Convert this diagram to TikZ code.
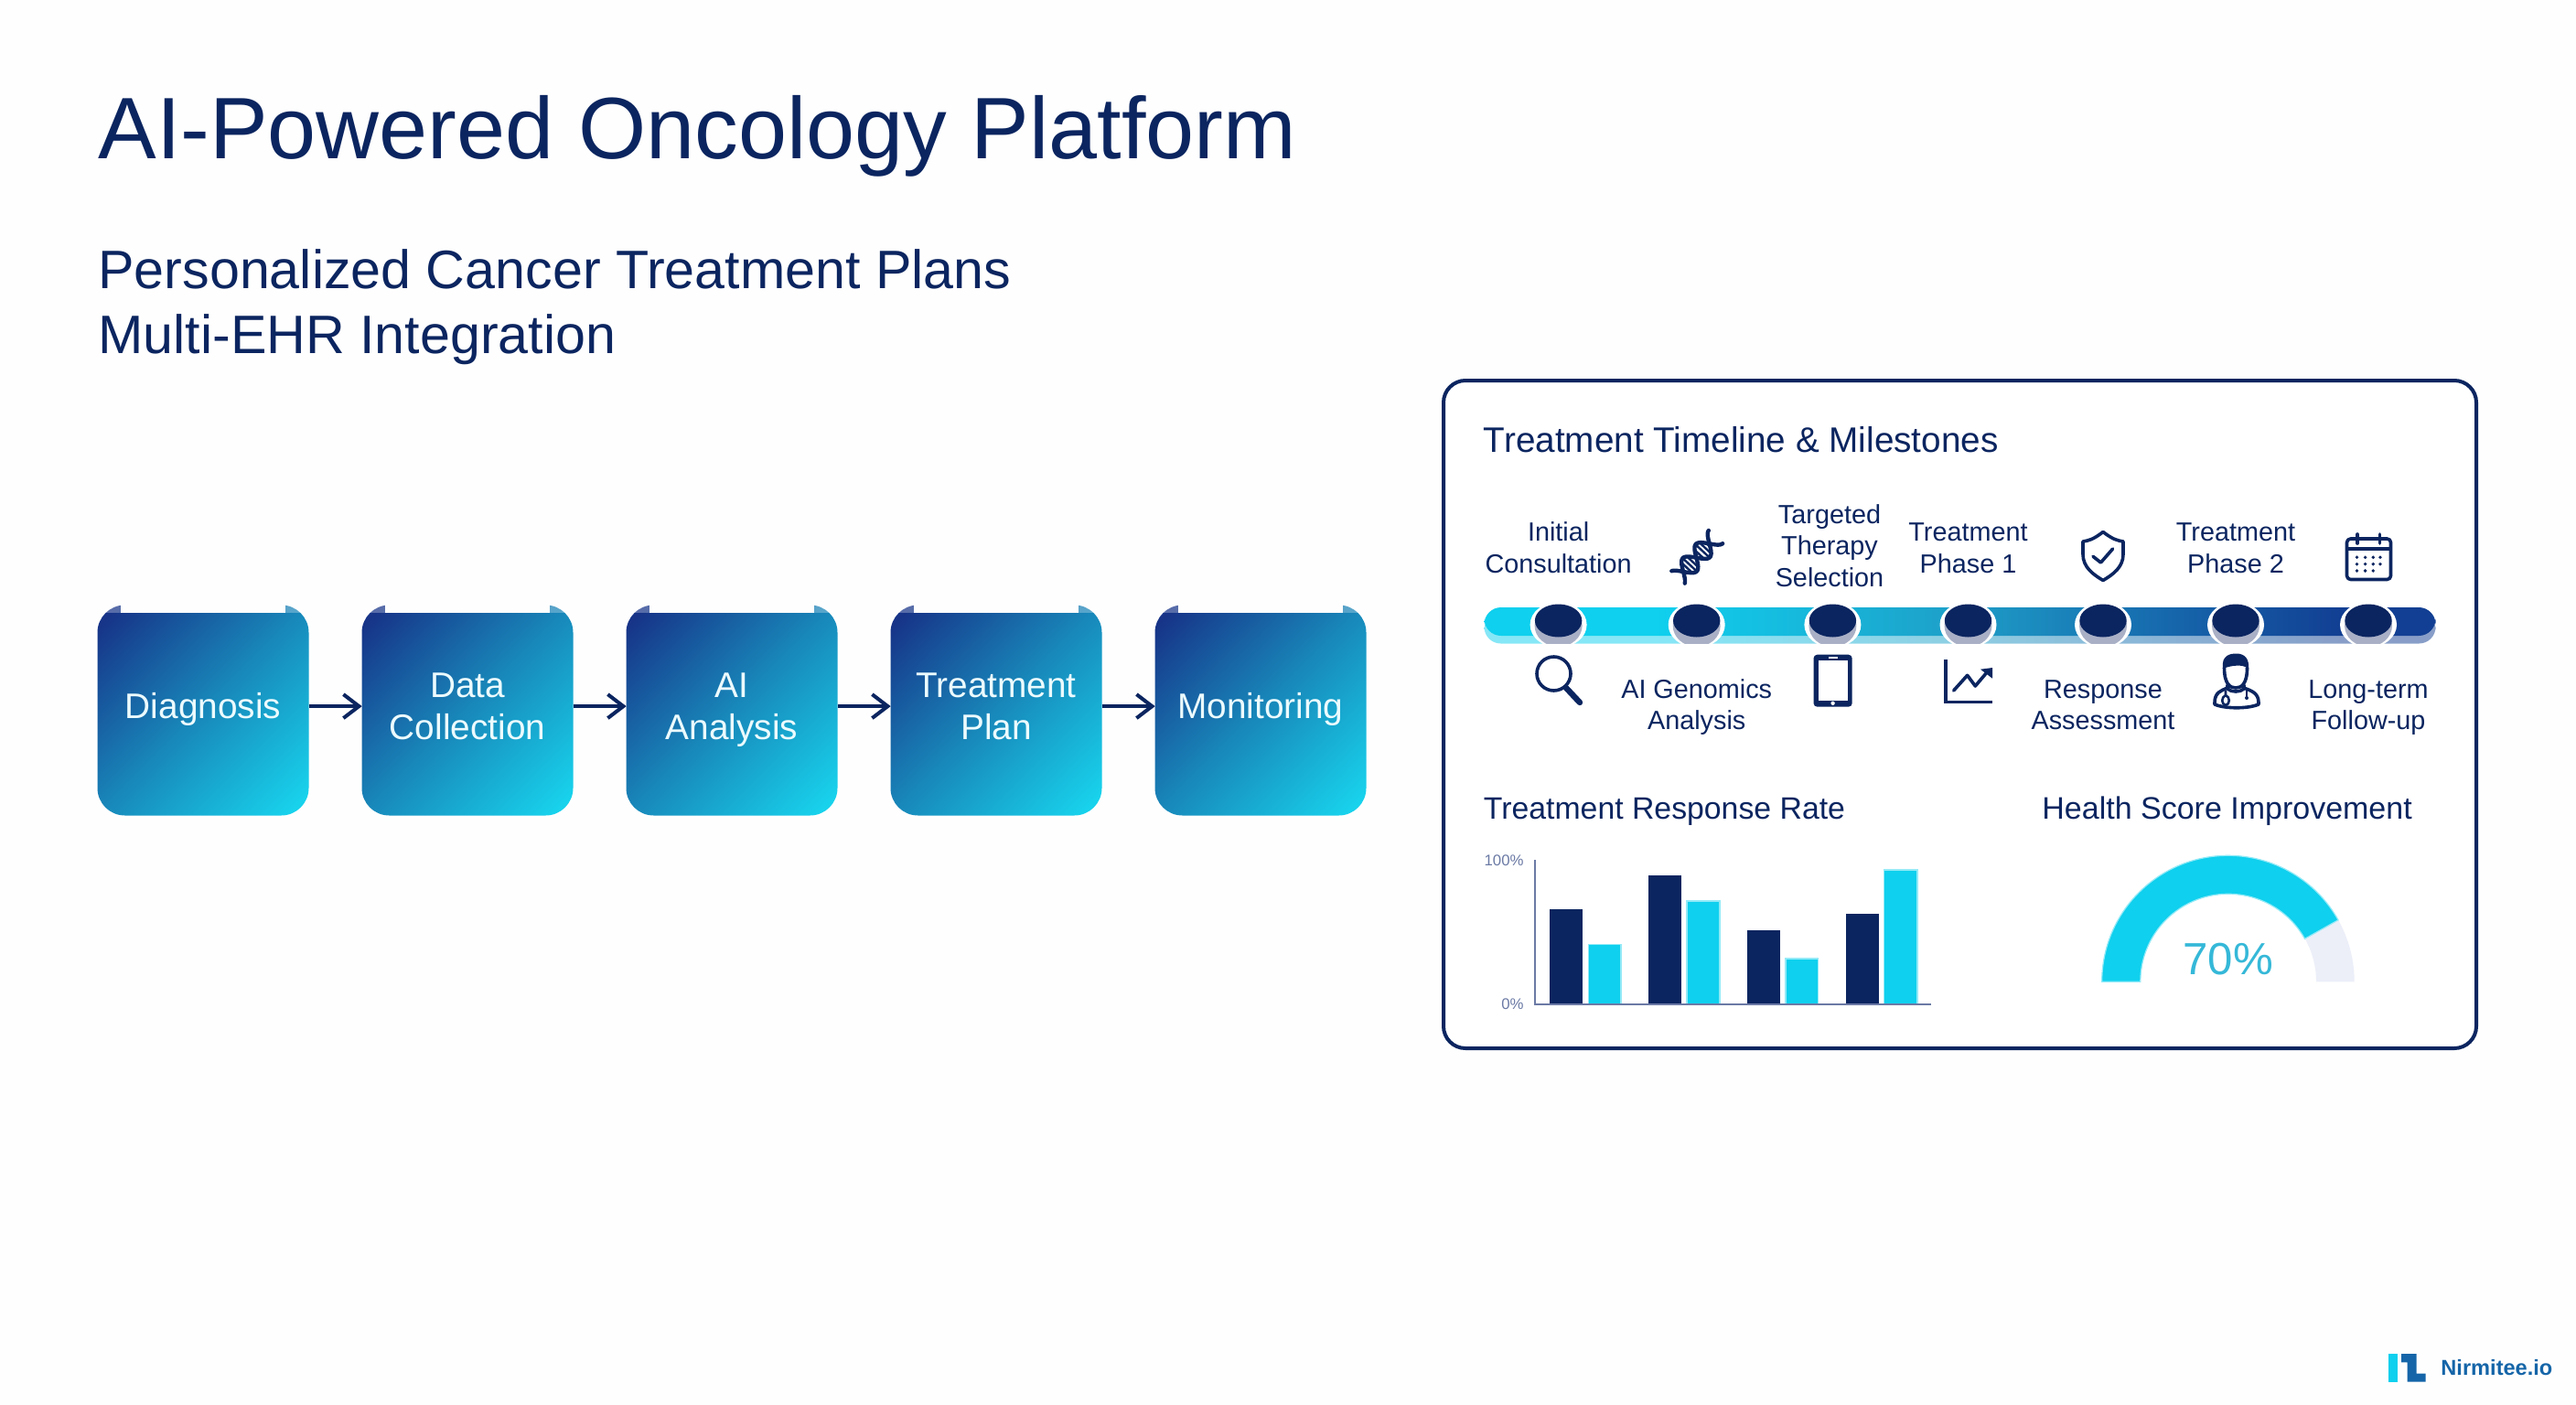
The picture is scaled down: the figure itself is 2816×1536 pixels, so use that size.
\documentclass[tikz,border=0pt]{standalone}
\usepackage{fontspec}
\setmainfont{Liberation Sans}
\usetikzlibrary{arrows.meta,shapes.geometric}
\definecolor{navy}{HTML}{0B2560}
\definecolor{cyanb}{HTML}{0FD0EE}
\definecolor{axisc}{HTML}{6B7AA5}
\definecolor{gaugeg}{HTML}{ECEFF8}
\definecolor{bgc}{HTML}{FEFEFE}
\definecolor{shadowg}{HTML}{A9B0C6}
\definecolor{logob}{HTML}{1565A8}
\definecolor{gaugetxt}{HTML}{35B8D8}
\definecolor{barb}{HTML}{1E9FC8}
\definecolor{barc}{HTML}{1667AC}
\definecolor{bard}{HTML}{123F93}
\definecolor{boxa}{HTML}{173488}
\definecolor{boxb}{HTML}{1888BA}
\definecolor{boxc}{HTML}{18D2EC}
\pgfdeclarehorizontalshading{barshade}{100bp}{
 color(0bp)=(cyanb); color(25bp)=(cyanb); color(34bp)=(cyanb);
 color(50bp)=(barb); color(61bp)=(barc); color(70bp)=(bard);
 color(75bp)=(bard); color(100bp)=(bard)}
\pgfdeclarehorizontalshading{boxshade}{100bp}{
 color(0bp)=(boxa); color(18bp)=(boxa); color(50bp)=(boxb);
 color(82bp)=(boxc); color(100bp)=(boxc)}
\tikzset{
 x=0.5pt,y=-0.5pt,
 title text/.style={anchor=base west,inner sep=0pt,text=navy},
 flowbox/.style={rectangle,rounded corners=15pt,minimum width=115.5pt,minimum height=115pt,inner sep=0pt,
   shading=boxshade,shading angle=-45,text=white!92!cyanb,align=center,
   font=\fontsize{19.4pt}{22.8pt}\selectfont},
 flowarrow/.style={draw=navy,line width=2pt,-{Straight Barb[length=8.5pt,width=13pt,line width=2pt]},shorten >=-0.3pt},
 mile/.style={inner sep=0pt,text=navy,align=center,font=\fontsize{14.4pt}{17.2pt}\selectfont},
 head/.style={anchor=base west,inner sep=0pt,text=navy},
 dotn/.style={ellipse,fill=navy,minimum width=25.7pt,minimum height=18pt,inner sep=0pt},
 icon/.style={draw=navy,line width=1.8pt,line cap=round,line join=round},
 navybar/.style={fill=navy},
 cyanbar/.style={fill=cyanb,draw=cyanb!45,line width=.6pt},
 axistick/.style={anchor=east,inner sep=0pt,text=axisc,font=\fontsize{8.4pt}{10pt}\selectfont},
}
\begin{document}
\begin{tikzpicture}
\useasboundingbox (0,0) rectangle (2816,1536);
\fill[bgc] (0,0) rectangle (2816,1536);
% titles
\node[title text,font=\fontsize{47.7pt}{50pt}\selectfont] (maintitle) at (107,173.3) {AI-Powered Oncology Platform};
\node[title text,font=\fontsize{29.6pt}{32pt}\selectfont] (subone) at (107,315) {Personalized Cancer Treatment Plans};
\node[title text,font=\fontsize{29.6pt}{32pt}\selectfont] (subtwo) at (107,386) {Multi-EHR Integration};
% flow
\foreach \nm/\cx/\txt in {a/222/Diagnosis\strut,b/511/Data\strut\\Collection\strut,c/800/AI\strut\\Analysis\strut,d/1089/Treatment\strut\\Plan\strut,e/1378/Monitoring\strut}{
  \node[flowbox] (\nm) at (\cx,776.5) {\txt};
  \begin{scope}
    \clip[rounded corners=15pt] (\nm.south west) rectangle (\nm.north east);
    \fill[white,opacity=.28] (\nm.north west) rectangle ([yshift=-4.2pt]\nm.north east);
  \end{scope}
  \fill[bgc] ([xshift=-45pt]\nm.north) rectangle ([xshift=45pt,yshift=-4.2pt]\nm.north);
}
\foreach \p/\q in {a/b,b/c,c/d,d/e}
  \draw[flowarrow] ([yshift=2.2pt]\p.east) -- ([yshift=2.2pt]\q.west);
% panel
\draw[navy,line width=2pt,fill=white,rounded corners=12pt] (1578,416) rectangle (2707,1146);
\node[head,font=\fontsize{19.35pt}{22pt}\selectfont] (paneltitle) at (1621.5,494) {Treatment Timeline \& Milestones};
% timeline bar
\shade[shading=barshade,opacity=.5,rounded corners=9pt] (1622.5,670) rectangle (2662.5,703.5);
\shade[shading=barshade,rounded corners=9.2pt] (1622.5,664) rectangle (2662.5,695);
\begin{scope}
 \clip (1600,640) rectangle (2700,703.5);
 \foreach \mx in {1703.6,1854.7,2003.4,2151.5,2299,2444,2589}{
   \fill[white] (\mx,683) ellipse [x radius=31,y radius=25];
   \fill[shadowg] (\mx,684) ellipse [x radius=26,y radius=23];
 }
\end{scope}
\foreach \i/\mx in {1/1703.6,2/1854.7,3/2003.4,4/2151.5,5/2299,6/2444,7/2589}
  \node[dotn] (m\i) at (\mx,678.5) {};
% labels
\node[mile] (l1) at (1703.6,602) {Initial\strut\\Consultation\strut};
\node[mile] (l3) at (2000,600) {Targeted\strut\\Therapy\strut\\Selection\strut};
\node[mile] (l4) at (2151.5,602) {Treatment\strut\\Phase 1\strut};
\node[mile] (l6) at (2444,602) {Treatment\strut\\Phase 2\strut};
\node[mile] (l2) at (1854.7,773.6) {AI Genomics\strut\\Analysis\strut};
\node[mile] (l5) at (2299,773.6) {Response\strut\\Assessment\strut};
\node[mile] (l7) at (2589,773.6) {Long-term\strut\\Follow-up\strut};
% magnifier
\draw[icon] (1698.5,736.5) circle [radius=18.5];
\draw[icon,line width=3.2pt] (1712,752) -- (1727,768);
% DNA
\begin{scope}[shift={(1855,609)},rotate=47]
 \draw[icon,line width=2.2pt] plot[domain=-30:30,samples=40] (\x,{10.5*sin(\x*8.6+8)});
 \draw[icon,line width=2.2pt] plot[domain=-30:30,samples=40] (\x,{-10.5*sin(\x*8.6+8)});
 \foreach \t in {-16,-11.5,-7,9,4,13.5,18}
   \draw[navy,line width=1.2pt] (\t,{10.5*sin(\t*8.6+8)}) -- (\t,{-10.5*sin(\t*8.6+8)});
\end{scope}
% tablet
\fill[navy,rounded corners=2pt] (1982.5,715.7) rectangle (2024.7,772.7);
\fill[white] (1988,721.7) rectangle (2019.6,766);
\fill[white] (2003.6,768.8) circle [radius=2.2];
\fill[white] (1999,718) rectangle (2008.5,720);
% chart icon
\draw[navy,line width=1.8pt] (2127,721) -- (2127,767.5) -- (2178,767.5);
\draw[icon] (2135.6,755) -- (2150.6,738.3) -- (2159.3,750) -- (2172,735);
\fill[navy] (2165,731.7) -- (2178,730) -- (2178,741.7) -- cycle;
% shield
\draw[icon] (2299,581.5) .. controls (2288,590) and (2283,591) .. (2277,592)
   -- (2277,606) .. controls (2277,620) and (2288,628) .. (2299,634.5)
   .. controls (2310,628) and (2321,620) .. (2321,606) -- (2321,592)
   .. controls (2315,591) and (2310,590) .. (2299,581.5) -- cycle;
\draw[icon] (2288,608.3) -- (2296.5,615) -- (2309.6,600);
% calendar
\draw[icon,rounded corners=2pt] (2565.5,589) rectangle (2613.5,633.5);
\draw[navy,line width=1.8pt] (2565.5,600) -- (2613.5,600);
\draw[icon] (2577,584) -- (2577,594);
\draw[icon] (2601.4,584) -- (2601.4,594);
\foreach \dx/\dy in {2576.5/609.3,2585.6/609.3,2594.3/609.3,2602/609.3,2576.5/616.7,2585.6/616.7,2594.3/616.7,2602/616.7,2576.5/624,2585.6/624,2594.3/624}
  \fill[navy] (\dx,\dy) circle [radius=1.9];
% doctor
\draw[icon] (2431.5,730) .. controls (2431.5,748) and (2438,752) .. (2444,752)
   .. controls (2450,752) and (2456.5,748) .. (2456.5,730);
\fill[navy] (2430,731) .. controls (2428,716) and (2438,714.5) .. (2445,714.5)
   .. controls (2455,714.5) and (2459,722) .. (2458,731)
   .. controls (2452,726) and (2440,727) .. (2430,731) -- cycle;
\draw[icon] (2435,749) -- (2435,752) .. controls (2428,755) and (2421,757) .. (2421,768)
   -- (2421,770) .. controls (2432,775) and (2458,775) .. (2469,770) -- (2469,768)
   .. controls (2469,757) and (2460,755) .. (2453,752) -- (2453,749);
\draw[icon] (2435,753) .. controls (2439,757) and (2449,757) .. (2453,753);
\draw[navy,line width=1.3pt] (2433,755) -- (2433,760) .. controls (2428,762) and (2428,770) .. (2433,771)
    .. controls (2438,770) and (2438,762) .. (2433,760);
\draw[navy,line width=1.3pt] (2456,755) -- (2456,762);
\fill[navy] (2456,763) circle [radius=2];
% response chart
\node[head,font=\fontsize{16.9pt}{20pt}\selectfont] (ratetitle) at (1621.5,895) {Treatment Response Rate};
\node[head,font=\fontsize{17pt}{20pt}\selectfont] (healthtitle) at (2232,895) {Health Score Improvement};
\node[axistick] (t100) at (1666,940.5) {100\%};
\node[axistick] (t0) at (1666,1098) {0\%};
\foreach \xa/\xb/\top in {1694.3/1730.4/994.3,1801.8/1838.2/956.7,1910/1946.4/1017,2017.9/2054.3/998.7}
  \fill[navybar] (\xa,\top) rectangle (\xb,1098.3);
\foreach \xa/\xb/\top in {1736.4/1772/1032.7,1844/1880/985,1952/1987.5/1048,2059.6/2096/951}
  \filldraw[cyanbar] (\xa,\top) rectangle (\xb,1098.3);
\draw[axisc,line width=.9pt] (1678,940) -- (1678,1098.3) -- (2110.7,1098.3);
% gauge
\fill[gaugeg] (2297.7,1073.3) arc[start angle=180,end angle=0,x radius=138,y radius=-138]
   -- (2532,1073.3) arc[start angle=0,end angle=180,x radius=96,y radius=-96] -- cycle;
\filldraw[cyanb,draw=cyanb!45,line width=.6pt] (2297.7,1073.3) arc[start angle=180,end angle=29.3,x radius=138,y radius=-138]
   -- (2519.5,1026.3) arc[start angle=29.3,end angle=180,x radius=96,y radius=-96] -- cycle;
\node[inner sep=0pt,text=gaugetxt,font=\fontsize{24.6pt}{28pt}\selectfont] (gaugeval) at (2435.5,1049) {70\%};
% logo
\fill[cyanb] (2611,1480) rectangle (2621,1510.7);
\fill[logob] (2625,1480) -- (2641.7,1480) -- (2641.7,1501.7) -- (2651.7,1501.7) -- (2651.7,1510.7) -- (2631.7,1510.7) -- (2631.7,1489.3) -- (2625,1489.3) -- cycle;
\node[anchor=west,inner sep=0pt,text=logob,font=\fontsize{11.8pt}{14pt}\selectfont\bfseries] (logot) at (2668,1495) {Nirmitee.io};
\end{tikzpicture}
\end{document}
